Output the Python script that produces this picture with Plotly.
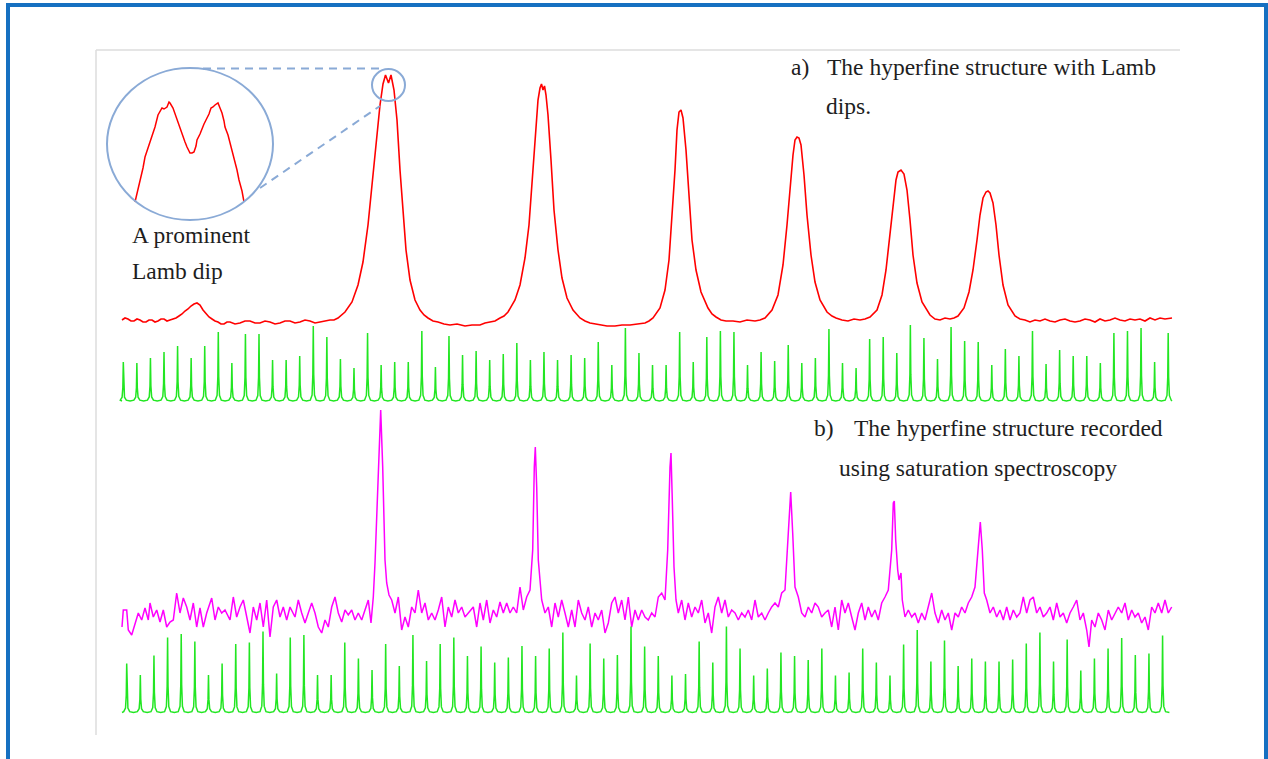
import plotly.graph_objects as go

W, H = 1268, 759

# ---------------- data (scan channel, signal in a.u.) ----------------
# a) Doppler-broadened hyperfine spectrum with Lamb dips
red_trace = [(0,80),(3,82),(6,81),(9,79),(12,79),(15,81),(18,80),(21,78),(24,78),(27,80),(30,80),(33,78),
             (36,79),(39,81),(42,81),(45,79),(48,80),(51,81),(54,82),(57,84),
             (60,86),(63,89),(66,91),(69,94),(72,96),(75,97),(78,95),(81,90),(84,86),(87,83),(90,81),(93,79),
             (96,78),(99,76),(102,76),(105,78),(108,78),(113,76),(118,77),(123,79),
             (128,79),(133,77),(138,77),(143,79),(148,78),(153,76),(158,77),(163,79),(168,79),(173,77),(178,78),
             (183,80),(188,79),(193,77),(198,78),(203,79),(208,80),(212,80),(216,82),
             (223,88),(230,98),(236,115),(241,138),(246,175),(250,215),(254,260),(258,295),(261,316),
             (263.5,325),(266.5,317),(269,325),(272,310),(275,280),(278,230),(281,185),(284,150),(288,120),
             (293,100),(298,90),(302,85),(306,82),(311,79),(316,78),(322,76),(328,75),(335,76),(343,74),(350,75),
             (358,75),(363,77),(368,78),(373,79),(378,82),(382,84),(386,88),
             (393,100),(398,115),(403,142),(407,175),(411,230),(414,275),(416,300),(418,312),(419.5,316),
             (421,310),(422.5,314),(424,305),(426,285),(429,240),(432,190),(436,150),(440,122),(445,102),
             (451,90),(458,82),(463,79),(468,77),(473,76),(478,75),(485,74),(493,74),(500,75),(508,75),(515,76),
             (523,77),(527,79),(531,82),(538,92),(543,110),
             (547,140),(550,180),(553,230),(555,270),(557,288),(559,290),(561,282),(564,250),(567,200),
             (570,160),(574,130),(579,108),(586,92),(590,86),(594,83),(599,80),(604,79),(611,79),(618,78),(625,80),
             (633,79),(638,80),(643,82),(650,90),
             (656,105),(661,135),(665,175),(668,215),(671,245),(673,260),(675,263),(677,262),(679,255),
             (682,225),(685,185),(689,145),(693,118),(698,100),(705,88),(710,84),(714,82),(720,80),(726,79),
             (732,81),(738,80),(743,81),(748,83),
             (755,90),(760,105),(764,130),(768,165),(771,195),(774,220),(776,228),(779,230),(782,226),
             (785,210),(788,180),(791,145),(795,117),(800,98),(808,85),(813,81),(818,80),(823,82),(828,81),
             (832,82),(836,84),(842,92),
             (847,108),(851,130),(855,160),(858,185),(861,202),(864,208),(866,209),(868,207),(871,197),
             (874,175),(877,145),(881,115),(886,95),(893,84),(898,81),(903,80),(908,78),(913,80),(918,79),(923,81),
             (928,79),(933,78),(938,80),(943,81),(948,79),(953,78),(958,79),(963,81),(968,80),(973,78),(978,81),
             (983,79),(988,80),(993,82),(998,80),(1003,79),(1008,81),(1013,80),(1018,81),(1023,79),(1028,82),
             (1033,80),(1038,82),(1043,81),(1050,82)]

# Fabry-Perot marker comb recorded with a)
comb_a_start = 1.3
comb_a_fsr = 13.57
comb_a_heights = [39, 38, 43, 49, 55, 43, 55, 69, 38, 67,
                  67, 41, 41, 45, 75, 64, 42, 33, 68, 36,
                  39, 39, 70, 34, 65, 46, 50, 41, 47, 58,
                  41, 49, 41, 46, 43, 59, 36, 73, 48, 36,
                  36, 69, 39, 64, 70, 69, 36, 49, 40, 56,
                  38, 43, 72, 38, 33, 62, 64, 48, 76, 63,
                  42, 74, 60, 59, 36, 52, 45, 70, 37, 51,
                  45, 45, 38, 68, 70, 73, 39, 68]

# b) saturation spectroscopy signal
mag_trace = [(0,93),(1.3,110),(4.7,110),(6.3,90),(9.7,85),(13,97),(16.3,107),(19.7,100),(23,112),(26.3,100),
             (28,117),(31.3,103),(34.7,110),(38,98),(41.3,110),(44.7,93),(48,98),(51.3,100),(54.7,127),(58,107),
             (61.3,122),(64.7,113),(68,100),(71.3,117),(74.7,93),(78,112),(81.3,93),(84.7,107),(89.7,122),(93,100),
             (96.3,113),(99.7,107),(103,110),(108,100),(111.3,123),(114.7,103),(118,113),(121.3,120),(124.7,103),
             (128,87),(131.3,113),(134.7,100),(138,117),(141.3,93),(144.7,120),(148,83),(151.3,113),(154.7,120),
             (158,103),(161.3,113),(164.7,100),(168,113),(173,103),(176.3,120),(179.7,107),(183,97),(186.3,107),
             (189.7,117),(193,107),(196.3,93),(199.7,87),(203,100),(206.3,93),(209.7,113),(213,123),(216.3,107),
             (219.7,98),(223,110),(226.3,105),(229.7,110),(233,100),(236.3,107),(239.7,100),(243,110),(246.3,120),
             (249,97),(251.3,123),(253,157),(256.3,253),(258.7,310),(260.7,253),(263,160),(264.7,137),(267,125),
             (269.7,120),(273,107),(276.3,123),(279.7,90),(283,103),(286.3,93),(289.7,113),(293,107),(296.3,130),
             (299.7,107),(303,117),(306.3,100),(309.7,107),(313,100),(316.3,110),(319.7,123),(323,93),(326.3,113),
             (329.7,103),(333,120),(336.3,107),(339.7,113),(343,103),
             (351.3,113),(354.7,93),(358,117),(361.3,100),(364.7,120),(368,97),(371.3,110),(374.7,103),(378,118),
             (381.3,107),(384.7,117),(388,107),(391.3,113),(394.7,107),(398,133),(401.3,110),(404.7,123),(408,130),
             (410.7,170),(412.3,253),(413.3,273),(414.7,233),(416.3,160),(418,140),(419.7,120),(423,107),(426.3,113),
             (429.7,93),(433,117),(436.3,103),(439.7,120),(443,107),(446.3,93),(449.7,110),(453,93),(456.3,120),
             (459.7,107),(463,100),(466.3,113),(469.7,93),(473,107),(476.3,100),(479.7,110),(483,87),(486.3,97),
             (489.7,117),(493,123),(496.3,107),(499.7,120),(503,100),(506.3,123),(509.7,93),(513,110),(516.3,100),
             (519.7,110),(523,103),(526.3,100),(529.7,107),(533,103),(536.3,123),(539.7,127),(543,120),(545.7,170),
             (548,253),(549,267),(550.3,220),(552,153),(554,120),(556.3,107),(559.7,120),(563,100),(566.3,117),
             (569.7,103),(573,113),(576.3,107),(579.7,120),(583,97),(586.3,107),(589.7,87),(593,113),(596.3,123),
             (599.7,107),(603,120),(606.3,103),(609.7,110),(613,107),(616.3,100),(619.7,107),(623,103),(626.3,110),
             (629.7,100),(633,120),(636.3,103),(639.7,107),(643,100),(646.3,107),(649.7,113),(653,117),(656.3,113),
             (659.7,127),(663,130),(666.3,187),(668.7,228),(670.7,187),(673,133),(676.3,123),(679.7,107),(683,103),
             (686.3,113),(689.7,107),(693,117),(696.3,113),(699.7,103),(703,107),
             (706.3,110),(709.7,93),(713,113),(716.3,90),(719.7,120),(723,107),(726.3,117),(729.7,103),(733,90),
             (736.3,107),(739.7,117),(743,100),(746.3,113),(749.7,103),(753,110),(756.3,100),(759.7,117),(763,123),
             (766.3,130),(769.7,170),(771.3,217),(772.3,219),(773.7,180),(775.7,150),(777,140),(779,147),(780.3,120),
             (783,103),(786.3,110),(789.7,103),(793,107),(796.3,97),(799.7,107),(803,100),(806.3,113),(809.7,127),
             (813,107),(816.3,97),(819.7,110),(823,100),(826.3,107),(829.7,90),(833,107),(836.3,103),(839.7,113),
             (843,107),(846.3,117),(849.7,123),(853,133),(856.3,180),(858.3,198),(860.3,170),(862.3,127),(864.7,120),
             (868,107),(871.3,113),(874.7,103),(878,110),(881.3,100),(884.7,113),(888,100),(891.3,110),(894.7,103),
             (898,107),(901.3,123),(904.7,107),(908,120),(911.3,123),(914.7,107),(918,113),(921.3,103),(924.7,107),
             (928,113),(931.3,100),(934.7,117),(938,103),(941.3,107),(944.7,97),(948,107),(951.3,113),(954.7,120),
             (958,100),(961.3,107),(964.7,90),(967,73),(969.7,100),(973,93),(976.3,107),(979.7,100),(983,90),
             (986.3,110),(989.7,100),(993,107),(996.3,113),(999.7,107),(1003,117),(1006.3,100),(1009.7,110),
             (1013,103),(1016.3,107),(1019.7,97),(1023,103),(1026.3,90),(1029.7,113),(1033,107),(1036.3,117),
             (1039.7,107),(1043,120),(1046.3,107),(1049.7,113)]

# Fabry-Perot marker comb recorded with b)
comb_b_start = 4.7
comb_b_fsr = 13.63
comb_b_heights = [49, 37.5, 57, 75, 78.5, 71, 37.5, 49, 68.5, 70,
                  81, 39, 75, 77.5, 37.5, 37.5, 70, 54, 42.5, 68.5,
                  46.5, 77.5, 51.5, 68.5, 75, 56.5, 66, 50, 55, 66.5,
                  56.5, 64, 80, 37, 69, 54, 57.5, 86, 66, 56.5,
                  37, 38.5, 71, 50, 86, 64, 37, 44, 60, 56.5,
                  52.5, 64, 37, 40, 64, 50, 37, 68, 82.5, 51,
                  72, 46.5, 54, 51, 51, 53, 69, 80, 51, 73,
                  42, 54, 64, 74.5, 57.5, 59, 77]

scan_start, scan_end = 0, 1050

# magnified top of the first peak (inset)
inset_trace = [(28,18),(31,30),(33,40),(36,52),(38,63),(41,72),(43,80),(46,87),(48,93),(51,105),(53,108),
               (55,112),(57,111),(60,113),(62,118),(63,117),(66,112),(68,106),(70,100),(73,92),(75,87),
               (78,78),(80,73),(83,67),(85,67),(87,68),(89,74),(90,80),(93,86),(95,92),(97,96),(100,102),
               (102,106),(104,112),(106,113),(108,115),(110,117),(111,117),(113,112),(115,107),(117,99),
               (118,93),(121,85),(123,77),(126,68),(128,60),(130,50),(132,40),(135,29),(137,18)]

label_a = ["a)", "The hyperfine structure with Lamb", "dips."]
label_b = ["b)", "The hyperfine structure recorded", "using saturation spectroscopy"]
label_dip = ["A prominent", "Lamb dip"]

# ---------------- helpers ----------------
def fx(px):
    return px / W


def fy(py):
    return 1 - py / H


def comb_xy(start, fsr, heights):
    xs, ys = [], []
    n = len(heights)
    for k, h in enumerate(heights):
        c = start + k * fsr
        left = max(scan_start, c - fsr / 2)
        xs += [left, c - 3.0, c - 1.2, c - 0.45, c, c + 0.45, c + 1.2, c + 3.0]
        ys += [0, 0.8, 1.5 + 0.06 * h, 0.35 * h, h, 0.35 * h, 1.5 + 0.06 * h, 0.8]
    xs.append(min(scan_end, start + (n - 1) * fsr + fsr / 2))
    ys.append(0)
    return xs, ys


def yax(base_px, top_px, bot_px):
    return dict(domain=[fy(bot_px), fy(top_px)],
                range=[-(bot_px - base_px), base_px - top_px],
                visible=False, fixedrange=True, anchor="x")


red_x, red_y = zip(*red_trace)
mag_x, mag_y = zip(*mag_trace)
ins_x, ins_y = zip(*inset_trace)
ca_x, ca_y = comb_xy(comb_a_start, comb_a_fsr, comb_a_heights)
cb_x, cb_y = comb_xy(comb_b_start, comb_b_fsr, comb_b_heights)

GREEN = "#22e622"
fig = go.Figure()
fig.add_trace(go.Scatter(x=ca_x, y=ca_y, mode="lines", line=dict(color=GREEN, width=1.5),
                         xaxis="x", yaxis="y2", hoverinfo="skip"))
fig.add_trace(go.Scatter(x=red_x, y=red_y, mode="lines", line=dict(color="#ff0000", width=1.6),
                         xaxis="x", yaxis="y", hoverinfo="skip"))
fig.add_trace(go.Scatter(x=cb_x, y=cb_y, mode="lines", line=dict(color=GREEN, width=1.5),
                         xaxis="x", yaxis="y4", hoverinfo="skip"))
fig.add_trace(go.Scatter(x=mag_x, y=mag_y, mode="lines", line=dict(color="#ff00ff", width=1.5),
                         xaxis="x", yaxis="y3", hoverinfo="skip"))
fig.add_trace(go.Scatter(x=ins_x, y=ins_y, mode="lines", line=dict(color="#ff0000", width=1.5),
                         xaxis="x2", yaxis="y5", hoverinfo="skip"))

CIRC = "#8aaad6"
shapes = [
    dict(type="rect", xref="paper", yref="paper", x0=fx(8), x1=fx(1266), y0=fy(800), y1=fy(5),
         line=dict(color="#1670c1", width=4)),
    dict(type="line", xref="paper", yref="paper", x0=fx(96), x1=fx(1180), y0=fy(50), y1=fy(50),
         line=dict(color="#dddddd", width=1.5)),
    dict(type="line", xref="paper", yref="paper", x0=fx(96), x1=fx(96), y0=fy(50), y1=fy(735),
         line=dict(color="#dddddd", width=1.5)),
    dict(type="circle", xref="paper", yref="paper", x0=fx(107), x1=fx(273), y0=fy(220), y1=fy(68),
         line=dict(color=CIRC, width=2)),
    dict(type="circle", xref="paper", yref="paper", x0=fx(372), x1=fx(405), y0=fy(101), y1=fy(69),
         line=dict(color=CIRC, width=2)),
    dict(type="line", xref="paper", yref="paper", x0=fx(203), x1=fx(385), y0=fy(68.5), y1=fy(68.5),
         line=dict(color=CIRC, width=2, dash="8px,6px")),
    dict(type="line", xref="paper", yref="paper", x0=fx(260), x1=fx(380), y0=fy(188), y1=fy(106),
         line=dict(color=CIRC, width=2, dash="8px,6px")),
]

TXT = dict(family="Liberation Serif", size=23.5, color="#1e1e1e")
ann_pos = [(label_a[0], 789, 67), (label_a[1], 825, 67), (label_a[2], 824, 106),
           (label_b[0], 812, 428), (label_b[1], 852, 428), (label_b[2], 837, 468),
           (label_dip[0], 130, 235), (label_dip[1], 130, 271)]
annotations = [dict(text=t, x=fx(x), y=fy(y), xref="paper", yref="paper", xanchor="left",
                    yanchor="middle", showarrow=False, font=TXT) for t, x, y in ann_pos]

fig.update_layout(
    width=W, height=H, margin=dict(l=0, r=0, t=0, b=0),
    paper_bgcolor="white", plot_bgcolor="rgba(0,0,0,0)", showlegend=False,
    xaxis=dict(domain=[fx(115), fx(1180)], range=[-7, 1058], visible=False, fixedrange=True),
    yaxis=yax(400, 55, 405),
    yaxis2=yax(401, 305, 406),
    yaxis3=yax(720, 395, 725),
    yaxis4=yax(712.5, 615, 718),
    xaxis2=dict(domain=[fx(100), fx(280)], range=[-7, 173], visible=False, fixedrange=True, anchor="y5"),
    yaxis5=dict(domain=[fy(228), fy(60)], range=[-8, 160], visible=False, fixedrange=True, anchor="x2"),
    shapes=shapes, annotations=annotations,
)

fig.write_html("out.html", config={"displayModeBar": False})
